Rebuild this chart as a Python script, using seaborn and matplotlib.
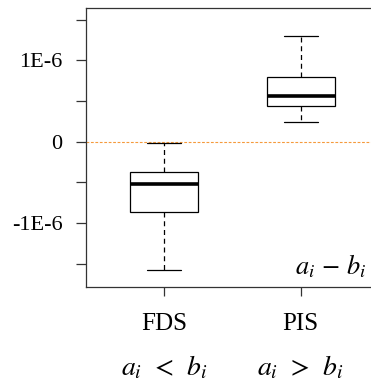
import numpy as np
import pandas as pd
import matplotlib
matplotlib.use("Agg")
import matplotlib.pyplot as plt
import seaborn as sns

# ---- data (five-number summaries) ----
categories = ["FDS", "PIS"]
fds_values = [-1.572e-6, -0.867e-6, -0.52e-6, -0.376e-6, -0.01e-6]
pis_values = [0.238e-6, 0.439e-6, 0.565e-6, 0.795e-6, 1.302e-6]
condition_labels = [r"$a_i\;\,<\;\,b_i$", r"$a_i\;\,>\;\,b_i$"]
ytick_values = [-1.5e-6, -1e-6, -0.5e-6, 0, 0.5e-6, 1e-6, 1.5e-6]
ytick_labels = ["", "-1E-6", "", "0", "", "1E-6", ""]
corner_label = r"$a_i\,-\,b_i$"

df = pd.DataFrame({
    "group": [categories[0]] * len(fds_values) + [categories[1]] * len(pis_values),
    "value": fds_values + pis_values,
})

sns.set_style("white")
plt.rcParams["font.family"] = ["Liberation Serif", "DejaVu Serif"]
plt.rcParams["mathtext.fontset"] = "stix"
plt.rcParams["text.color"] = "black"
plt.rcParams["xtick.color"] = "black"
plt.rcParams["ytick.color"] = "black"

fig = plt.figure(figsize=(3.71, 3.85), dpi=100)
ax = fig.add_axes([86 / 371, 1 - 287 / 385, 293 / 371, 278.7 / 385])

sns.boxplot(
    data=df, x="group", y="value", order=categories, ax=ax,
    width=0.5, color="white", linecolor="black", linewidth=0.9,
    whis=np.inf, showfliers=False,
    whiskerprops={"linestyle": (0, (4, 3))},
    medianprops={"linewidth": 2.6, "color": "black"},
)

ax.axhline(0, color="#f59a3c", linestyle=(0, (2.5, 1.5)), linewidth=0.8, zorder=0)

ax.set_xlim(-0.575, 1.575)
ax.set_ylim(-1.785e-6, 1.64e-6)
ax.set_yticks(ytick_values)
ax.set_yticklabels(ytick_labels, fontsize=16)
ax.set_xticks(range(len(categories)))
ax.set_xticklabels(categories, fontsize=18)
ax.set_xlabel("")
ax.set_ylabel("")

ax.tick_params(axis="y", direction="out", length=7.5, width=0.9, pad=9.5,
               color="#333333", labelcolor="black", left=True)
ax.tick_params(axis="x", direction="out", length=6.5, width=0.9, pad=12,
               color="#333333", labelcolor="black", bottom=True)

for side in ["left", "top", "bottom", "right"]:
    ax.spines[side].set_visible(True)
    ax.spines[side].set_color("#333333")
    ax.spines[side].set_linewidth(0.9)

for i, lab in enumerate(condition_labels):
    ax.text(i, -0.29, lab, transform=ax.get_xaxis_transform(),
            ha="center", va="center", fontsize=20, color="black", clip_on=False)

ax.text(0.713, 0.047, corner_label, transform=ax.transAxes,
        ha="left", va="baseline", fontsize=19, color="black")

fig.savefig("out.png", dpi=100)
